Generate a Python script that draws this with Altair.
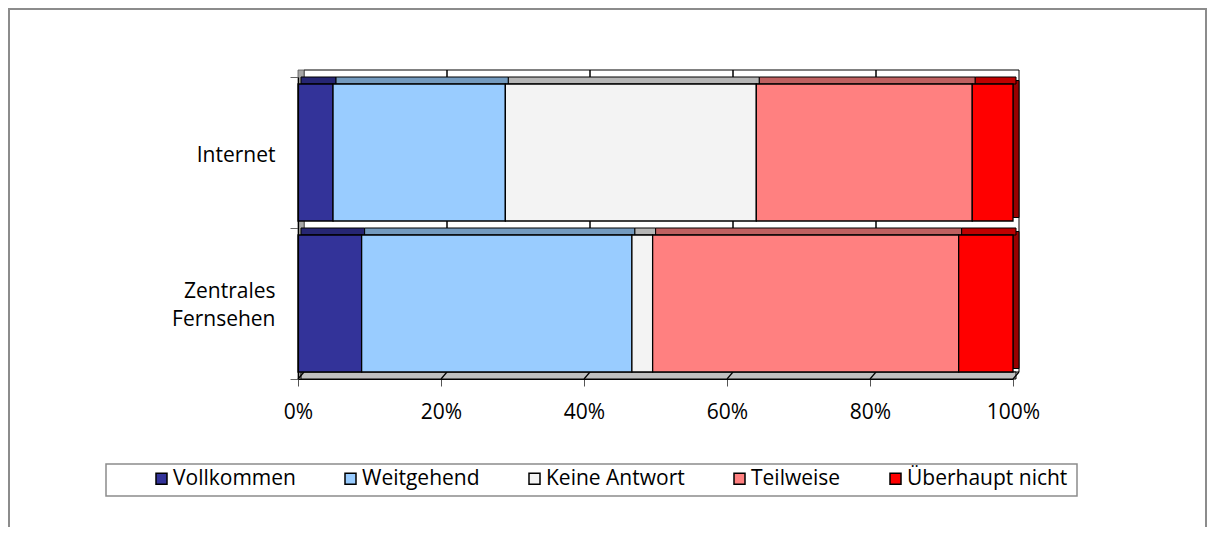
import altair as alt
import pandas as pd

categories = ["Internet", "Zentrales Fernsehen"]
series = ["Vollkommen", "Weitgehend", "Keine Antwort", "Teilweise", "Überhaupt nicht"]
internet_values = [4.9, 24.1, 35.1, 30.2, 5.7]
fernsehen_values = [8.9, 37.8, 2.9, 42.8, 7.6]
tick_values = [0, 20, 40, 60, 80, 100]

front_colors = ["#333399", "#99CCFF", "#F3F3F3", "#FF8080", "#FF0000"]
top_colors = ["#262673", "#739ABF", "#B5B5B5", "#BF6060", "#C00000"]

rows = []
for cat, vals in zip(categories, [internet_values, fernsehen_values]):
    for i, (s, v) in enumerate(zip(series, vals)):
        rows.append({"cat": cat, "series": s, "order": i, "value": v})
df = pd.DataFrame(rows)
ticks_df = pd.DataFrame({"t": tick_values})
inner_ticks_df = pd.DataFrame({"t": tick_values[1:-1]})
one = pd.DataFrame({"a": [0]})

FONT = "Open Sans"
DX, DY = 6, 7
W, H = 715, 302
BAR = 137

xs = alt.Scale(domain=[0, 100], nice=False, zero=True)
ys = alt.Scale(domain=categories, paddingInner=0, paddingOuter=0)

x_axis = alt.Axis(
    values=tick_values, labelExpr="datum.value + '%'", tickSize=7,
    labelPadding=15, labelFontSize=21, labelFont=FONT, labelColor="black",
    labelFlush=False, domainColor="black", domainWidth=1.2, tickColor="#555",
    grid=False, zindex=1, title=None,
)
y_axis = alt.Axis(
    tickBand="extent",
    labelExpr="isValid(datum.value) ? split(datum.value, ' ') : ''",
    labelAlign="right", labelPadding=15, tickSize=8, labelFontSize=21, labelFont=FONT,
    labelColor="black", labelLineHeight=28,
    labelOffset={"condition": {"test": "indexof(datum.value + '', ' ') > 0", "value": -12}, "value": 3},
    domainColor="black", domainWidth=1.2, tickColor="#666", zindex=1, title=None,
)

base = alt.Chart(df).transform_stack(
    stack="value", groupby=["cat"], as_=["x0", "x1"], sort=[alt.SortField("order")]
)

# outer chart frame
frame = alt.Chart(one).mark_rect(fill=None, stroke="#8c8c8c", strokeWidth=2).encode(
    x=alt.value(-289), x2=alt.value(908), y=alt.value(-68), y2=alt.value(470)
)
# legend box
legend_box = alt.Chart(one).mark_rect(fill=None, stroke="#8c8c8c", strokeWidth=1.5).encode(
    x=alt.value(-192), x2=alt.value(779), y=alt.value(387), y2=alt.value(419)
)

# back wall
back_wall = alt.Chart(one).mark_rect(
    fill="white", stroke="black", strokeWidth=1, xOffset=DX, x2Offset=DX
).encode(
    x=alt.X(datum=0, scale=xs, axis=x_axis), x2=alt.X2(datum=100),
    y=alt.value(-DY), y2=alt.value(H - DY)
)
back_grid = alt.Chart(inner_ticks_df).mark_rule(
    color="black", strokeWidth=1.5, xOffset=DX
).encode(
    x=alt.X("t:Q", scale=xs, axis=x_axis), y=alt.value(-DY), y2=alt.value(H - DY)
)
left_wall = alt.Chart(one).mark_rect(
    fill="#a6a6a6", stroke="#555", strokeWidth=0.8, x2Offset=DX
).encode(
    x=alt.X(datum=0, scale=xs, axis=x_axis), x2=alt.X2(datum=0),
    y=alt.value(-DY), y2=alt.value(H)
)
floor = alt.Chart(one).mark_rect(
    fill="#c0c0c0", stroke="black", strokeWidth=1, xOffset=DX / 2, x2Offset=DX / 2
).encode(
    x=alt.X(datum=0, scale=xs, axis=x_axis), x2=alt.X2(datum=100),
    y=alt.value(H - DY), y2=alt.value(H)
)
floor_grid = alt.Chart(ticks_df).mark_rule(
    color="black", strokeWidth=1.2, x2Offset=DX
).encode(
    x=alt.X("t:Q", scale=xs, axis=x_axis), x2="t:Q",
    y=alt.value(H), y2=alt.value(H - DY)
)

right_face = base.transform_filter(alt.datum.order == len(series) - 1).mark_bar(
    size=BAR, yOffset=-DY / 2, x2Offset=DX, fill="#990000", stroke="black", strokeWidth=1
).encode(
    x=alt.X("x1:Q", scale=xs, axis=x_axis), x2="x1:Q",
    y=alt.Y("cat:N", scale=ys, axis=y_axis),
)

top_faces = base.mark_bar(
    size=DY, yOffset=-(BAR / 2 + DY / 2), xOffset=DX / 2, x2Offset=DX / 2,
    stroke="black", strokeWidth=1
).encode(
    x=alt.X("x0:Q", scale=xs, axis=x_axis), x2="x1:Q",
    y=alt.Y("cat:N", scale=ys, axis=y_axis),
    color=alt.Color("series:N", scale=alt.Scale(domain=series, range=top_colors), legend=None),
)

bars = base.mark_bar(size=BAR, stroke="black", strokeWidth=1.3).encode(
    x=alt.X("x0:Q", scale=xs, axis=x_axis),
    x2="x1:Q",
    y=alt.Y("cat:N", scale=ys, axis=y_axis),
    color=alt.Color(
        "series:N",
        scale=alt.Scale(domain=series, range=front_colors),
        legend=alt.Legend(
            orient="none", legendX=-147, legendY=391, direction="horizontal", title=None,
            symbolType="square", symbolSize=121, symbolStrokeColor="black",
            symbolStrokeWidth=1.5, symbolOpacity=1, labelFontSize=21, labelFont=FONT,
            labelColor="black", columnPadding=44, labelOffset=1, labelLimit=300, padding=0,
        ),
    ),
)

chart = alt.layer(
    frame, legend_box, back_wall, back_grid, left_wall, floor, floor_grid,
    right_face, top_faces, bars,
).resolve_scale(color="independent").properties(
    width=W, height=H,
    padding={"left": 290, "top": 69, "right": 194, "bottom": 148},
    autosize=alt.AutoSizeParams(type="none"),
).configure_view(stroke=None)

chart.save("out.html", embed_options={"renderer": "svg", "actions": False})
